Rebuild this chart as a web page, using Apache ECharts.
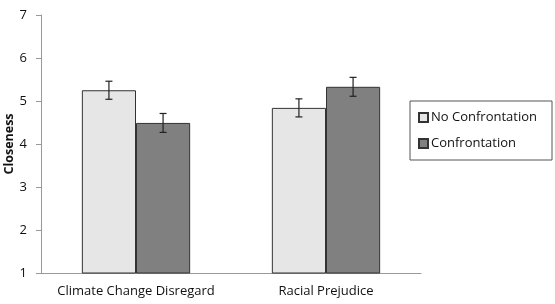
<!DOCTYPE html>
<html>
<head>
<meta charset="utf-8">
<script src="https://cdn.jsdelivr.net/npm/echarts@6/dist/echarts.min.js"></script>
<style>
  html, body { margin: 0; padding: 0; background: #fff; }
  #main { width: 555px; height: 304px; }
</style>
</head>
<body>
<div id="main"></div>
<script>
var categories = ['Climate Change Disregard', 'Racial Prejudice'];
var seriesNames = ['No Confrontation', 'Confrontation'];
var noConfrontation = [5.25, 4.84];
var confrontation = [4.49, 5.33];
var noConfrontationErr = [0.21, 0.21];
var confrontationErr = [0.22, 0.22];
var yTicks = [1, 2, 3, 4, 5, 6, 7];

var gapPct = 0.43;
var font = '"Open Sans", sans-serif';

var myChart = echarts.init(document.getElementById('main'));

function errorSeries(values, errs, which) {
    var data = values.map(function (v, i) { return [i, v - errs[i], v + errs[i]]; });
    return {
        type: 'custom',
        name: seriesNames[which] + ' err',
        z: 10,
        silent: true,
        renderItem: function (params, api) {
            var idx = api.value(0);
            var lo = api.coord([idx, api.value(1)]);
            var hi = api.coord([idx, api.value(2)]);
            var catW = api.size([1, 0])[0];
            var barW = catW * (1 - gapPct) / 2;
            var x = lo[0] + (which === 0 ? -barW / 2 : barW / 2);
            var cap = 3.5;
            var st = { stroke: '#222', lineWidth: 1.2 };
            return {
                type: 'group',
                children: [
                    { type: 'line', shape: { x1: x, y1: lo[1], x2: x, y2: hi[1] }, style: st },
                    { type: 'line', shape: { x1: x - cap, y1: lo[1], x2: x + cap, y2: lo[1] }, style: st },
                    { type: 'line', shape: { x1: x - cap, y1: hi[1], x2: x + cap, y2: hi[1] }, style: st }
                ]
            };
        },
        data: data
    };
}

option = {
    animation: false,
    textStyle: { fontFamily: font },
    grid: { left: 41, right: 134, top: 15, bottom: 31, outerBoundsMode: 'none', containLabel: false },
    legend: {
        orient: 'vertical',
        left: 410,
        top: 101,
        data: seriesNames,
        icon: 'rect',
        itemWidth: 9,
        itemHeight: 9,
        itemGap: 13,
        padding: [10, 15, 10, 8],
        borderColor: '#555',
        borderWidth: 1,
        textStyle: { fontFamily: font, fontSize: 13, color: '#111', padding: [0, 0, 0, -2] }
    },
    xAxis: {
        type: 'category',
        data: categories,
        axisLine: { lineStyle: { color: '#999' } },
        axisTick: { show: false },
        axisLabel: { color: '#111', fontSize: 13, margin: 12, interval: 0, fontFamily: font }
    },
    yAxis: {
        type: 'value',
        min: yTicks[0],
        max: yTicks[yTicks.length - 1],
        interval: 1,
        name: 'Closeness',
        nameLocation: 'middle',
        nameMoveOverlap: false,
        nameGap: 25,
        nameTextStyle: { fontWeight: 'bold', fontSize: 12.5, color: '#111', fontFamily: font },
        axisLine: { show: true, lineStyle: { color: '#999' } },
        axisTick: { show: true, length: 5, lineStyle: { color: '#999' } },
        axisLabel: { color: '#111', fontSize: 13, margin: 8, padding: [0, 6, 0, 0], fontFamily: font },
        splitLine: { show: false }
    },
    series: [
        {
            name: seriesNames[0],
            type: 'bar',
            data: noConfrontation,
            barGap: '0%',
            barCategoryGap: (gapPct * 100) + '%',
            itemStyle: { color: '#e6e6e6', borderColor: '#333', borderWidth: 1 }
        },
        {
            name: seriesNames[1],
            type: 'bar',
            data: confrontation,
            itemStyle: { color: '#808080', borderColor: '#333', borderWidth: 1 }
        },
        errorSeries(noConfrontation, noConfrontationErr, 0),
        errorSeries(confrontation, confrontationErr, 1)
    ]
};

myChart.setOption(option);
</script>
</body>
</html>
